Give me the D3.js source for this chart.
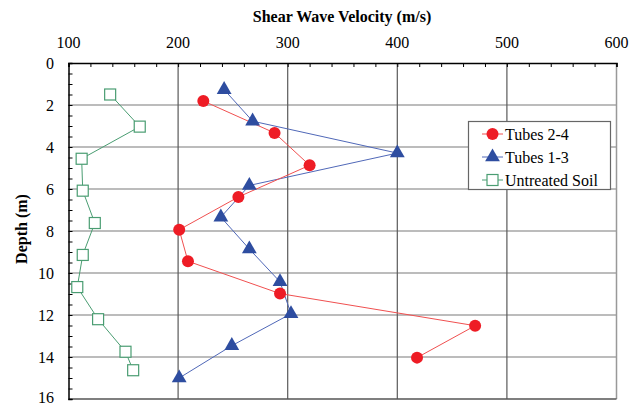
<!DOCTYPE html>
<html><head><meta charset="utf-8">
<script src="https://cdn.jsdelivr.net/npm/d3@7"></script>
<style>body{margin:0;background:#fff}svg{display:block}text{font-family:"Liberation Serif","DejaVu Serif",serif}</style>
</head><body>
<svg id="c" width="639" height="406"></svg>
<script>
const xTicks = [100, 200, 300, 400, 500, 600];
const yTicks = [0, 2, 4, 6, 8, 10, 12, 14, 16];

const tubes24Depth = [1.81, 3.33, 4.87, 6.38, 7.94, 9.44, 10.98, 12.51, 14.03];
const tubes24Vs    = [223, 288, 320, 255, 201, 209, 293, 471, 418];

const tubes13Depth = [1.27, 2.77, 4.29, 5.83, 7.34, 8.86, 10.42, 11.94, 13.46, 15.0];
const tubes13Vs    = [242, 268, 400, 265, 239, 265, 293, 303, 249, 201];

const soilDepth = [1.5, 3.03, 4.56, 6.08, 7.62, 9.14, 10.67, 12.2, 13.75, 14.63];
const soilVs    = [138, 165, 112, 113, 124, 113, 108, 127, 152, 159];

const seriesNames = ["Tubes 2-4", "Tubes 1-3", "Untreated Soil"];

const svg = d3.select("#c");
const L = 68.5, R = 616.5, T = 63, B = 399;
const x = d3.scaleLinear().domain([100, 600]).range([L, R]);
const y = d3.scaleLinear().domain([0, 16]).range([T, B]);

// grid
svg.append("g").selectAll("line").data([2,4,6,8,10,12,14]).join("line")
  .attr("x1", L).attr("x2", R).attr("y1", d => y(d)).attr("y2", d => y(d))
  .attr("stroke", "#7a7a7a").attr("stroke-width", 1.2);
svg.append("g").selectAll("line").data([200,300,400,500]).join("line")
  .attr("y1", T).attr("y2", B).attr("x1", d => x(d)).attr("x2", d => x(d))
  .attr("stroke", "#5a5a5a").attr("stroke-width", 1.2);
svg.append("line").attr("x1", R).attr("x2", R).attr("y1", T).attr("y2", B).attr("stroke", "#999").attr("stroke-width", 1.5);
svg.append("line").attr("x1", L).attr("x2", R).attr("y1", B).attr("y2", B).attr("stroke", "#555").attr("stroke-width", 1.5);

// axes
const xAxis = d3.axisTop(x).tickValues(d3.range(100, 601, 20)).tickSize(-4).tickFormat("");
const gx = svg.append("g").attr("transform", `translate(0,${T})`).call(xAxis);
gx.select(".domain").attr("stroke", "#000").attr("stroke-width", 1.5);
gx.selectAll(".tick line").attr("stroke", "#000");
svg.append("g").selectAll("text").data(xTicks).join("text")
  .attr("x", d => x(d)).attr("y", 48).attr("text-anchor", "middle")
  .attr("font-size", 16).text(d => d);

const yAxis = d3.axisLeft(y).tickValues(d3.range(0, 16.01, 0.5)).tickSize(-4).tickFormat("");
const gy = svg.append("g").attr("transform", `translate(${L},0)`).call(yAxis);
gy.select(".domain").attr("stroke", "#000").attr("stroke-width", 1.5);
gy.selectAll(".tick line").attr("stroke", "#000");
svg.append("g").selectAll("text").data(yTicks).join("text")
  .attr("x", 54).attr("y", d => Math.min(y(d), 397)).attr("dy", "0.35em").attr("text-anchor", "end")
  .attr("font-size", 16).text(d => d);

// titles
svg.append("text").attr("x", 342).attr("y", 22).attr("text-anchor", "middle")
  .attr("font-weight", "bold").attr("font-size", 16)
  .text("Shear Wave Velocity (m/s)");
svg.append("text").attr("transform", `translate(27,229) rotate(-90)`).attr("text-anchor", "middle")
  .attr("font-weight", "bold").attr("font-size", 16)
  .text("Depth (m)");

const line = d3.line().x(d => x(d[0])).y(d => y(d[1]));
const s24 = tubes24Vs.map((v, i) => [v, tubes24Depth[i]]);
const s13 = tubes13Vs.map((v, i) => [v, tubes13Depth[i]]);
const ss  = soilVs.map((v, i) => [v, soilDepth[i]]);

const red = "#ee1c25", blue = "#2e4da0", green = "#4a9d72";
const tri = d3.symbol().type(d3.symbolTriangle).size(95);

svg.append("path").datum(ss).attr("d", line).attr("fill", "none").attr("stroke", green).attr("stroke-width", 1);
svg.append("path").datum(s13).attr("d", line).attr("fill", "none").attr("stroke", "#5068b8").attr("stroke-width", 1);
svg.append("path").datum(s24).attr("d", line).attr("fill", "none").attr("stroke", "#f05050").attr("stroke-width", 1);

svg.append("g").selectAll("rect").data(ss).join("rect")
  .attr("x", d => x(d[0]) - 5.5).attr("y", d => y(d[1]) - 5.5).attr("width", 11).attr("height", 11)
  .attr("fill", "#fff").attr("stroke", green).attr("stroke-width", 1.2);
svg.append("g").selectAll("path").data(s13).join("path")
  .attr("d", tri).attr("transform", d => `translate(${x(d[0])},${y(d[1])})`).attr("fill", blue);
svg.append("g").selectAll("circle").data(s24).join("circle")
  .attr("cx", d => x(d[0])).attr("cy", d => y(d[1])).attr("r", 6).attr("fill", red);

// legend
const lg = svg.append("g");
lg.append("rect").attr("x", 468.5).attr("y", 121.5).attr("width", 142).attr("height", 68)
  .attr("fill", "#fff").attr("stroke", "#666").attr("stroke-width", 1.2);
const ly = [134, 157, 180];
const lcol = ["#f05050", "#5068b8", green];
seriesNames.forEach((n, i) => {
  lg.append("line").attr("x1", 482).attr("x2", 503).attr("y1", ly[i]).attr("y2", ly[i]).attr("stroke", lcol[i]);
  if (i === 0) lg.append("circle").attr("cx", 492.5).attr("cy", ly[i]).attr("r", 6).attr("fill", red);
  if (i === 1) lg.append("path").attr("d", tri).attr("transform", `translate(492.5,${ly[i]})`).attr("fill", blue);
  if (i === 2) lg.append("rect").attr("x", 487).attr("y", ly[i] - 5.5).attr("width", 11).attr("height", 11)
    .attr("fill", "#fff").attr("stroke", green).attr("stroke-width", 1.2);
  lg.append("text").attr("x", 505).attr("y", ly[i]).attr("dy", "0.35em")
    .attr("font-size", 16).text(n);
});
</script>
</body></html>
